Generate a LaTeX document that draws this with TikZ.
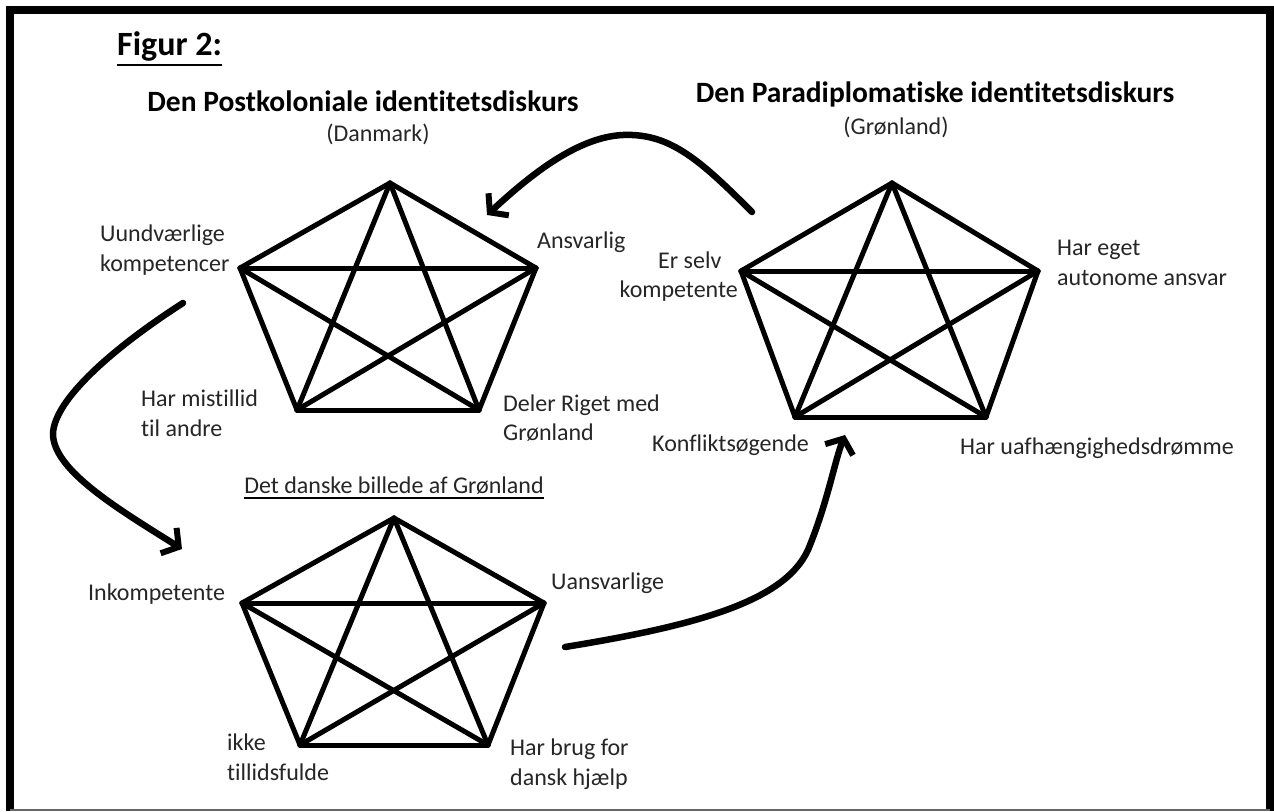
\documentclass[tikz,border=0pt]{standalone}
\usepackage{fontspec}
\setmainfont{Carlito}[Ligatures=CommonOff]
\usetikzlibrary{arrows.meta}
\begin{document}
\begin{tikzpicture}[x=1pt,y=-1pt,
  lbl/.style={inner sep=0pt, font=\fontsize{24}{29.5}\selectfont, align=left, text=black!85},
  ttl/.style={inner sep=0pt, font=\fontsize{29.5}{34}\selectfont\bfseries, text=black},
  pedge/.style={line width=5pt, line cap=round},
  flow/.style={line width=6.5pt, line cap=round, -{Straight Barb[length=12pt,width=30pt,line width=6pt]}},
  frame/.style={line width=8pt}]
\useasboundingbox (0,0) rectangle (1274,811);
\fill[white] (0,0) rectangle (1274,811);
% frame
\draw[frame] (10,811) -- (10,10) -- (1270,10) -- (1270,811);
\draw[black!60, line width=1.5pt] (10,810) -- (1270,810);

% titles
\node[inner sep=0pt, anchor=west, font=\fontsize{34}{40}\selectfont\bfseries] (fig) at (117,46) {Figur 2:};
\draw[line width=2.2pt] ([yshift=-4pt]fig.south west) -- ([yshift=-4pt]fig.south east);
\node[ttl] (t1) at (363,101) {Den Postkoloniale identitetsdiskurs};
\node[lbl] (t1s) at (378,134) {(Danmark)};
\node[ttl] (t2) at (935,94) {Den Paradiplomatiske identitetsdiskurs};
\node[lbl] (t2s) at (896,127) {(Grønland)};
\node[lbl] (t3) at (394,486) {Det danske billede af Grønland};
\draw[line width=1.5pt] ([yshift=-3pt]t3.south west) -- ([yshift=-3pt]t3.south east);

% pentagon 1
\coordinate (a1) at (390,183);
\coordinate (a2) at (536,268);
\coordinate (a3) at (479,410);
\coordinate (a4) at (297,410);
\coordinate (a5) at (240,268);
% pentagon 2
\coordinate (b1) at (892,183);
\coordinate (b2) at (1038,271);
\coordinate (b3) at (986,417);
\coordinate (b4) at (795,417);
\coordinate (b5) at (741,271);
% pentagon 3
\coordinate (c1) at (394,518);
\coordinate (c2) at (544,603);
\coordinate (c3) at (488,745);
\coordinate (c4) at (300,745);
\coordinate (c5) at (242,603);

\foreach \p in {a,b,c}{
  \foreach \i/\j in {1/2,2/3,3/4,4/5,5/1,1/3,1/4,2/4,2/5,3/5}{
    \draw[pedge] (\p\i) -- (\p\j);
  }
}

% labels pentagon 1
\node[lbl, anchor=west] (l11) at (100,250) {Uundværlige\\kompetencer};
\node[lbl, anchor=west] (l12) at (537,242) {Ansvarlig};
\node[lbl, anchor=west] (l13) at (141,413) {Har mistillid\\til andre};
\node[lbl, anchor=west] (l14) at (503,418) {Deler Riget med\\Grønland};
% labels pentagon 2
\node[lbl, anchor=west] (l21) at (658,260) {Er selv};
\node[lbl, anchor=east] (l21b) at (738,291) {kompetente};
\node[lbl, anchor=west] (l22) at (1057,263) {Har eget\\autonome ansvar};
\node[lbl, anchor=west] (l23) at (652,445) {Konfliktsøgende};
\node[lbl, anchor=west] (l24) at (960,448) {Har uafhængighedsdrømme};
% labels pentagon 3
\node[lbl, anchor=west] (l31) at (88,594) {Inkompetente};
\node[lbl, anchor=west] (l32) at (551,583) {Uansvarlige};
\node[lbl, anchor=west] (l33) at (227,757) {ikke\\tillidsfulde};
\node[lbl, anchor=west] (l34) at (510,764) {Har brug for\\dansk hjælp};

% arrows
\coordinate (s1) at (752,212);
\coordinate (e1) at (487,215);
\coordinate (s2) at (183,303);
\coordinate (e2) at (182,549);
\coordinate (s3) at (565,647);
\coordinate (e3) at (845,435);
\coordinate (m2) at (53,433);
\coordinate (m3) at (810,545);
\coordinate (m1) at (623,135);
\draw[flow] (s1) .. controls (700,160) and (670,133) .. (m1) .. controls (575,137) and (525,180) .. (e1);
\draw[flow] (s2) .. controls (110,350) and (55,400) .. (m2) .. controls (52,470) and (120,510) .. (e2);
\draw[flow] (s3) .. controls (700,625) and (790,600) .. (m3) .. controls (828,500) and (835,460) .. (e3);
\end{tikzpicture}
\end{document}
